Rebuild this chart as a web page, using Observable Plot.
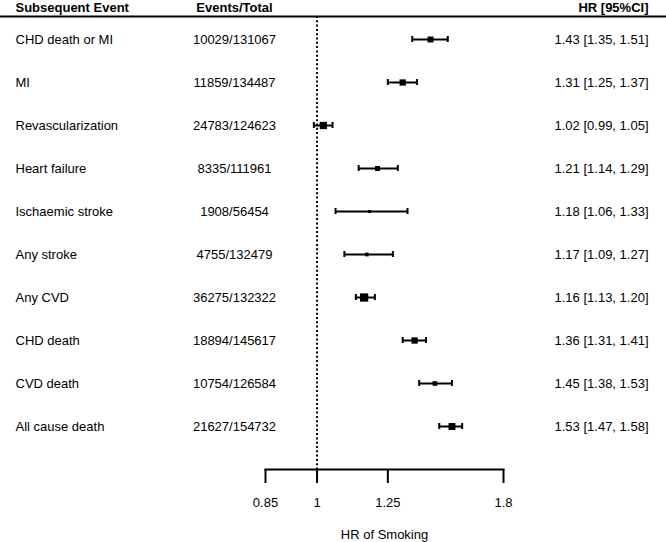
<!DOCTYPE html>
<html><head><meta charset="utf-8">
<script src="https://cdn.jsdelivr.net/npm/d3@7"></script>
<script src="https://cdn.jsdelivr.net/npm/@observablehq/plot@0.6"></script>
<style>body{margin:0;background:#fff;}</style>
</head><body><div id="chart"></div>
<script>
// ---- data ----
const outcomes = ["CHD death or MI","MI","Revascularization","Heart failure","Ischaemic stroke","Any stroke","Any CVD","CHD death","CVD death","All cause death"];
const eventCounts = [10029,11859,24783,8335,1908,4755,36275,18894,10754,21627];
const totals = [131067,134487,124623,111961,56454,132479,132322,145617,126584,154732];
const hr = [1.43,1.31,1.02,1.21,1.18,1.17,1.16,1.36,1.45,1.53];
const lower = [1.35,1.25,0.99,1.14,1.06,1.09,1.13,1.31,1.38,1.47];
const upper = [1.51,1.37,1.05,1.29,1.33,1.27,1.20,1.41,1.53,1.58];
const weights = [36,40,53,25,9,14,69,40,22,49]; // relative box weights
const xTicks = [0.85,1,1.25,1.8];
const xTickLabels = ["0.85","1","1.25","1.8"];
const headers = ["Subsequent Event","Events/Total","HR [95%CI]"];
const axisTitle = "HR of Smoking";

const rows = outcomes.map((name, i) => ({
  name, events: eventCounts[i], total: totals[i],
  hr: hr[i], lo: lower[i], hi: upper[i], w: weights[i]
}));

const font = "'Liberation Sans', Arial, Helvetica, sans-serif";
const W = 666, H = 542;
const mL = 265, mR = 163;

const chart = Plot.plot({
  width: W, height: H,
  marginTop: 16, marginBottom: 73, marginLeft: mL, marginRight: mR,
  style: {fontFamily: font, fontSize: "13px", color: "#000", background: "#fff", overflow: "visible"},
  x: {type: "log", domain: [0.85, 1.8]},
  y: {type: "point", domain: outcomes, range: [38.3, 427.7], padding: 0, axis: null},
  r: {type: "sqrt", domain: [0, 70], range: [0, 4.7]},
  marks: [
    Plot.frame({anchor: "top", insetLeft: -mL, insetRight: -mR, strokeWidth: 2}),
    Plot.frame({anchor: "bottom", strokeWidth: 2}),
    Plot.ruleX([1], {strokeWidth: 2, strokeDasharray: "2,2.3"}),
    Plot.axisX({
      ticks: xTicks,
      tickFormat: (d) => xTickLabels[xTicks.indexOf(d)],
      tickSize: 14, tickPadding: 14, strokeWidth: 2,
      fontSize: 13,
      label: axisTitle, labelAnchor: "center", labelArrow: "none", labelOffset: 69
    }),
    Plot.ruleY(rows, {y: "name", x1: "lo", x2: "hi", strokeWidth: 2}),
    Plot.ruleX(rows, {x: "lo", y1: "name", y2: "name", insetTop: -3, insetBottom: -3, strokeWidth: 2}),
    Plot.ruleX(rows, {x: "hi", y1: "name", y2: "name", insetTop: -3, insetBottom: -3, strokeWidth: 2}),
    Plot.dot(rows, {x: "hr", y: "name", r: "w", symbol: "square", fill: "#000"}),
    // left text columns
    Plot.text(rows, {y: "name", text: "name", frameAnchor: "left", dx: 15 - mL, textAnchor: "start", fill: "#000"}),
    Plot.text(rows, {y: "name", text: (d) => `${d.events}/${d.total}`, frameAnchor: "left", dx: 234 - mL, textAnchor: "middle", fill: "#000"}),
    // right column
    Plot.text(rows, {y: "name", text: (d) => `${d.hr.toFixed(2)} [${d.lo.toFixed(2)}, ${d.hi.toFixed(2)}]`, frameAnchor: "right", dx: 648 - (W - mR), textAnchor: "end", fill: "#000"}),
    // headers
    Plot.text([headers[0]], {frameAnchor: "top-left", dx: 15 - mL, dy: -5, lineAnchor: "bottom", textAnchor: "start", fontWeight: "bold", fill: "#000"}),
    Plot.text([headers[1]], {frameAnchor: "top-left", dx: 234 - mL, dy: -5, lineAnchor: "bottom", textAnchor: "middle", fontWeight: "bold", fill: "#000"}),
    Plot.text([headers[2]], {frameAnchor: "top-right", dx: 648 - (W - mR), dy: -5, lineAnchor: "bottom", textAnchor: "end", fontWeight: "bold", fill: "#000"})
  ]
});
document.getElementById("chart").appendChild(chart);
</script>
</body></html>
